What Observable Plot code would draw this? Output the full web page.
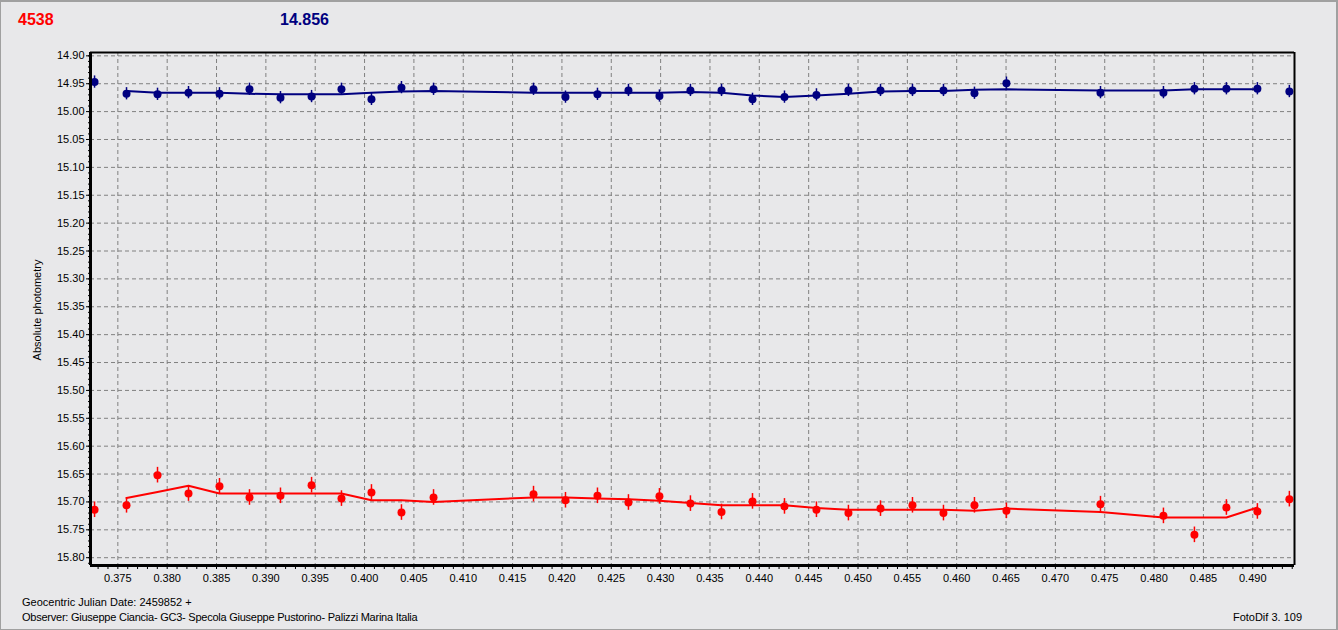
<!DOCTYPE html>
<html>
<head>
<meta charset="utf-8">
<script src="https://cdn.jsdelivr.net/npm/d3@7"></script>
<script src="https://cdn.jsdelivr.net/npm/@observablehq/plot@0.6"></script>
<style>
  html, body { margin: 0; padding: 0; background: #e8e8ea; }
  #wrap { position: relative; width: 1338px; height: 630px; overflow: hidden; background: #e8e8ea; font-family: "Liberation Sans", Arial, sans-serif; }
  #border { position: absolute; left: 0; top: 0; width: 1335px; height: 627px; border: 1px solid #a0a0a0; border-top-width: 2px; border-right-width: 2px; pointer-events: none; }
  .t { position: absolute; white-space: nowrap; }
  .big { font-size: 16px; font-weight: bold; line-height: 16px; }
  .small { font-size: 11px; line-height: 11px; color: #000; }
  #chart { position: absolute; left: 0; top: 0; }
</style>
</head>
<body>
<div id="wrap">
  <div id="chart"></div>
  <div class="t big" style="left:18px; top:11.5px; color:#ff0000;">4538</div>
  <div class="t big" style="left:280px; top:11.5px; color:#000080;">14.856</div>
  <div class="t small" style="left:36.5px; top:310px; transform: translate(-50%,-50%) rotate(-90deg);">Absolute photometry</div>
  <div class="t small" style="left:22px; top:597px;">Geocentric Julian Date: 2459852 +</div>
  <div class="t small" style="left:22px; top:612px; letter-spacing:-0.24px;">Observer: Giuseppe Ciancia- GC3- Specola Giuseppe Pustorino- Palizzi Marina Italia</div>
  <div class="t small" style="right:36px; top:612px;">FotoDif 3. 109</div>
  <div id="border"></div>
</div>
<script>
// ---- data ----
const times = [0.37264, 0.37588, 0.37902, 0.38216, 0.38530, 0.38834, 0.39148, 0.39463, 0.39766, 0.40070,
  0.40374, 0.40699, 0.41712, 0.42036, 0.42360, 0.42674, 0.42988, 0.43302, 0.43617, 0.43931,
  0.44255, 0.44579, 0.44903, 0.45228, 0.45552, 0.45866, 0.46180, 0.46504, 0.47457, 0.48095,
  0.48409, 0.48733, 0.49047, 0.49371];

const blueMag = [14.947, 14.968, 14.969, 14.966, 14.968, 14.960, 14.975, 14.973, 14.960, 14.978,
  14.957, 14.960, 14.960, 14.974, 14.969, 14.962, 14.972, 14.962, 14.962, 14.978,
  14.974, 14.970, 14.962, 14.962, 14.962, 14.962, 14.967, 14.949, 14.966, 14.966,
  14.959, 14.959, 14.959, 14.964];

const blueFit = [null, 14.963, 14.966, 14.966, 14.966, 14.968, 14.969, 14.969, 14.969, 14.966,
  14.964, 14.963, 14.966, 14.966, 14.966, 14.966, 14.966, 14.965, 14.966, 14.971,
  14.974, 14.971, 14.968, 14.964, 14.963, 14.963, 14.961, 14.960, 14.962, 14.962,
  14.960, 14.960, 14.960, null];

const redMag = [15.714, 15.706, 15.652, 15.685, 15.672, 15.692, 15.689, 15.670, 15.694, 15.683,
  15.719, 15.692, 15.686, 15.697, 15.689, 15.701, 15.690, 15.703, 15.718, 15.699,
  15.708, 15.714, 15.720, 15.712, 15.706, 15.720, 15.706, 15.716, 15.704, 15.725,
  15.759, 15.710, 15.717, 15.695];

const redFit = [null, 15.693, 15.682, 15.671, 15.685, 15.685, 15.685, 15.685, 15.685, 15.697,
  15.697, 15.700, 15.692, 15.692, 15.694, 15.695, 15.698, 15.702, 15.706, 15.706,
  15.706, 15.711, 15.714, 15.714, 15.714, 15.714, 15.716, 15.712, 15.718, 15.728,
  15.728, 15.728, 15.710, null];

const blueErr = 0.011;
const redErr = 0.014;

const xTicks = [0.375, 0.380, 0.385, 0.390, 0.395, 0.400, 0.405, 0.410, 0.415, 0.420, 0.425, 0.430,
  0.435, 0.440, 0.445, 0.450, 0.455, 0.460, 0.465, 0.470, 0.475, 0.480, 0.485, 0.490];
const yTicks = [14.90, 14.95, 15.00, 15.05, 15.10, 15.15, 15.20, 15.25, 15.30, 15.35, 15.40,
  15.45, 15.50, 15.55, 15.60, 15.65, 15.70, 15.75, 15.80];
const xDomain = [0.37223, 0.49423];
const yDomain = [14.894, 15.814];

// ---- build ----
const blue = times.map((t, i) => ({t, m: blueMag[i], f: blueFit[i]}));
const red = times.map((t, i) => ({t, m: redMag[i], f: redFit[i]}));
const xMinor = d3.range(373, 495).map(v => v / 1000);
const yMinor = d3.range(1490, 1582).map(v => v / 100);

const BLUE = "#000080", RED = "#ff0000";

const chart = Plot.plot({
  width: 1338,
  height: 630,
  marginLeft: 90,
  marginRight: 44,
  marginTop: 52,
  marginBottom: 65,
  style: {background: "transparent", fontFamily: "'Liberation Sans', Arial, sans-serif", fontSize: "11px", color: "#000"},
  x: {domain: xDomain},
  y: {domain: yDomain, reverse: true},
  marks: [
    Plot.gridX(xTicks, {stroke: "#808080", strokeOpacity: 1, strokeDasharray: "4,3"}),
    Plot.gridY(yTicks, {stroke: "#808080", strokeOpacity: 1, strokeDasharray: "4,3"}),
    Plot.line(blue, {x: "t", y: "f", stroke: BLUE, strokeWidth: 2, curve: "linear"}),
    Plot.line(red, {x: "t", y: "f", stroke: RED, strokeWidth: 2, curve: "linear"}),
    Plot.ruleX(blue, {x: "t", y1: d => d.m - blueErr, y2: d => d.m + blueErr, stroke: BLUE, strokeWidth: 1.5}),
    Plot.ruleX(red, {x: "t", y1: d => d.m - redErr, y2: d => d.m + redErr, stroke: RED, strokeWidth: 1.5}),
    Plot.dot(blue, {x: "t", y: "m", r: 4, fill: BLUE, stroke: null}),
    Plot.dot(red, {x: "t", y: "m", r: 4, fill: RED, stroke: null}),
    Plot.axisX(xMinor, {anchor: "bottom", tickSize: 4, tickFormat: () => "", label: null, stroke: "#000"}),
    Plot.axisX(xTicks, {anchor: "bottom", tickSize: 0, tickPadding: 9, tickFormat: d3.format(".3f"), label: null, fontSize: 11}),
    Plot.axisY(yMinor, {anchor: "left", tickSize: 2, tickFormat: () => "", label: null, stroke: "#000"}),
    Plot.axisY(yTicks, {anchor: "left", tickSize: 4, tickPadding: 2, tickFormat: d3.format(".2f"), label: null, fontSize: 11}),
    Plot.ruleY([yDomain[0]], {stroke: "#000", strokeWidth: 2}),
    Plot.ruleX([xDomain[1]], {stroke: "#000", strokeWidth: 2}),
    Plot.ruleX([xDomain[0]], {stroke: "#000", strokeWidth: 3}),
    Plot.ruleY([yDomain[1]], {stroke: "#000", strokeWidth: 3})
  ]
});
document.getElementById("chart").appendChild(chart);
</script>
</body>
</html>
